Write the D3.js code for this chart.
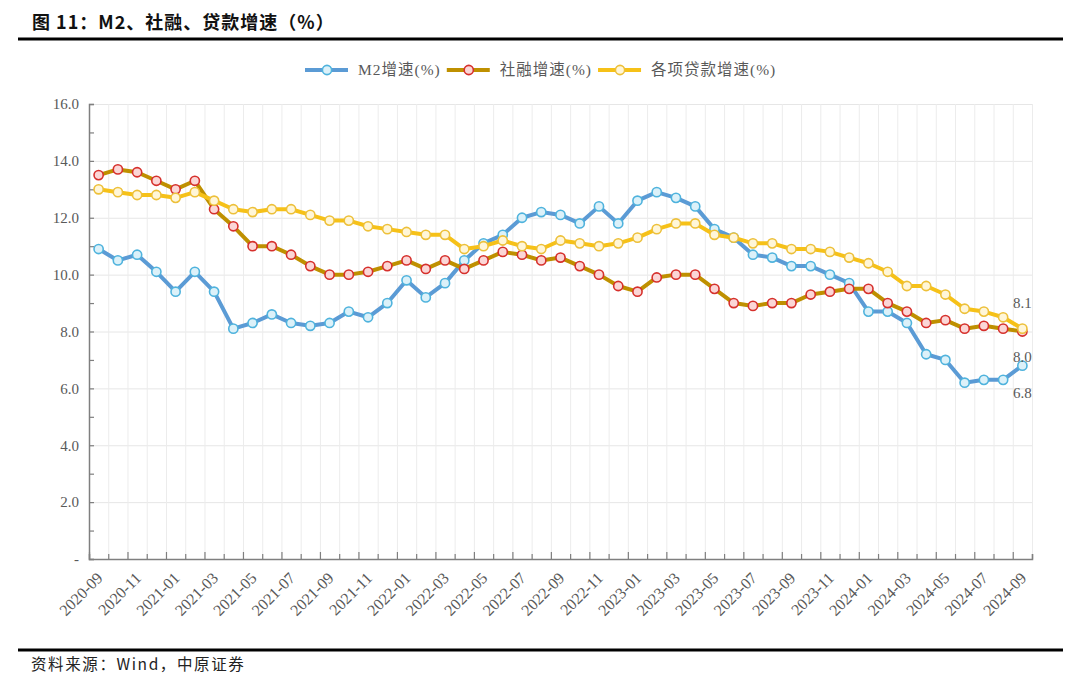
<!DOCTYPE html>
<html>
<head>
<meta charset="utf-8">
<script src="https://cdn.jsdelivr.net/npm/d3@7.9.0/dist/d3.min.js"></script>
<style>
  html, body { margin: 0; padding: 0; background: #fff; }
  svg { display: block; }
  .serif { font-family: "Liberation Serif", "Noto Sans CJK SC", serif; }
</style>
</head>
<body>
<svg id="chart" width="1080" height="696"></svg>
<script>
// categories (monthly)
const months = [
  '2020-09','2020-10','2020-11','2020-12',
  '2021-01','2021-02','2021-03','2021-04','2021-05','2021-06','2021-07','2021-08','2021-09','2021-10','2021-11','2021-12',
  '2022-01','2022-02','2022-03','2022-04','2022-05','2022-06','2022-07','2022-08','2022-09','2022-10','2022-11','2022-12',
  '2023-01','2023-02','2023-03','2023-04','2023-05','2023-06','2023-07','2023-08','2023-09','2023-10','2023-11','2023-12',
  '2024-01','2024-02','2024-03','2024-04','2024-05','2024-06','2024-07','2024-08','2024-09'
];

// M2增速(%)
const m2Growth = [
  10.9, 10.5, 10.7, 10.1,
  9.4, 10.1, 9.4, 8.1, 8.3, 8.6, 8.3, 8.2, 8.3, 8.7, 8.5, 9.0,
  9.8, 9.2, 9.7, 10.5, 11.1, 11.4, 12.0, 12.2, 12.1, 11.8, 12.4, 11.8,
  12.6, 12.9, 12.7, 12.4, 11.6, 11.3, 10.7, 10.6, 10.3, 10.3, 10.0, 9.7,
  8.7, 8.7, 8.3, 7.2, 7.0, 6.2, 6.3, 6.3, 6.8
];

// 社融增速(%)
const tsfGrowth = [
  13.5, 13.7, 13.6, 13.3,
  13.0, 13.3, 12.3, 11.7, 11.0, 11.0, 10.7, 10.3, 10.0, 10.0, 10.1, 10.3,
  10.5, 10.2, 10.5, 10.2, 10.5, 10.8, 10.7, 10.5, 10.6, 10.3, 10.0, 9.6,
  9.4, 9.9, 10.0, 10.0, 9.5, 9.0, 8.9, 9.0, 9.0, 9.3, 9.4, 9.5,
  9.5, 9.0, 8.7, 8.3, 8.4, 8.1, 8.2, 8.1, 8.0
];

// 各项贷款增速(%)
const loanGrowth = [
  13.0, 12.9, 12.8, 12.8,
  12.7, 12.9, 12.6, 12.3, 12.2, 12.3, 12.3, 12.1, 11.9, 11.9, 11.7, 11.6,
  11.5, 11.4, 11.4, 10.9, 11.0, 11.2, 11.0, 10.9, 11.2, 11.1, 11.0, 11.1,
  11.3, 11.6, 11.8, 11.8, 11.4, 11.3, 11.1, 11.1, 10.9, 10.9, 10.8, 10.6,
  10.4, 10.1, 9.6, 9.6, 9.3, 8.8, 8.7, 8.5, 8.1
];

const yTicks = [0, 2, 4, 6, 8, 10, 12, 14, 16];
const xLabels = months.filter((d, i) => i % 2 === 0);

const series = [
  { name: 'M2增速(%)', values: m2Growth, line: '#5b9bd5', ring: '#4fb3dd', fill: '#dcf1f9', labelDy: 27 },
  { name: '社融增速(%)', values: tsfGrowth, line: '#bf9000', ring: '#d6302c', fill: '#fbd6d6', labelDy: 25 },
  { name: '各项贷款增速(%)', values: loanGrowth, line: '#f6c118', ring: '#edc03a', fill: '#fff6d8', labelDy: -26 }
];

const svg = d3.select('#chart');
const plotLeft = 89, plotRight = 1032, plotTop = 104, plotBottom = 559;

svg.append('rect').attr('width', 1080).attr('height', 696).attr('fill', '#fff');

// title + rules
svg.append('text')
  .attr('x', 32).attr('y', 29)
  .attr('font-family', '"Noto Sans CJK SC", "Liberation Sans", sans-serif')
  .attr('font-weight', 'bold').attr('font-size', 18).attr('fill', '#111')
  .attr('letter-spacing', 1)
  .text('图 11：M2、社融、贷款增速（%）');
svg.append('line').attr('x1', 18).attr('x2', 1063).attr('y1', 39).attr('y2', 39)
  .attr('stroke', '#000').attr('stroke-width', 3);
svg.append('line').attr('x1', 18).attr('x2', 1063).attr('y1', 650).attr('y2', 650)
  .attr('stroke', '#000').attr('stroke-width', 3);
svg.append('text')
  .attr('x', 31).attr('y', 670)
  .attr('font-family', '"Noto Sans CJK SC", "Liberation Sans", sans-serif')
  .attr('font-size', 15.5).attr('fill', '#222').attr('letter-spacing', 1.6)
  .text('资料来源：Wind，中原证券');

// scales
const x = d3.scaleBand().domain(months).range([plotLeft, plotRight]);
const xEdge = d3.scaleLinear().domain([0, months.length]).range([plotLeft, plotRight]);
const y = d3.scaleLinear().domain([0, 16]).range([plotBottom, plotTop]);

// gridlines
svg.append('g')
  .attr('transform', `translate(${plotLeft},0)`)
  .call(d3.axisLeft(y).tickValues(yTicks.slice(1)).tickSize(-(plotRight - plotLeft)).tickFormat(''))
  .call(g => g.select('.domain').remove())
  .call(g => g.selectAll('line').attr('stroke', '#e6e6e6').attr('stroke-width', 1));
svg.append('g')
  .attr('transform', `translate(0,${plotBottom})`)
  .call(d3.axisBottom(xEdge).tickValues(d3.range(1, months.length + 1)).tickSize(-(plotBottom - plotTop)).tickFormat(''))
  .call(g => g.select('.domain').remove())
  .call(g => g.selectAll('line').attr('stroke', '#ececec').attr('stroke-width', 1));

// y axis
svg.append('g')
  .attr('transform', `translate(${plotLeft},0)`)
  .call(d3.axisLeft(y).tickValues(d3.range(0, 17)).tickSize(-5).tickPadding(10)
    .tickFormat(d => d === 0 ? '-' : (d % 2 === 0 ? d3.format('.1f')(d) : '')))
  .call(g => g.select('.domain').attr('stroke', '#7f7f7f').attr('stroke-width', 1.5))
  .call(g => g.selectAll('line').attr('stroke', '#7f7f7f').attr('stroke-width', 1.2))
  .call(g => g.selectAll('text').attr('class', 'serif').attr('font-size', 15).attr('fill', '#595959'));

// x axis: ticks between categories
svg.append('g')
  .attr('transform', `translate(0,${plotBottom})`)
  .call(d3.axisBottom(xEdge).tickValues(d3.range(0, months.length + 1)).tickSize(-5).tickFormat(''))
  .call(g => g.select('.domain').attr('stroke', '#7f7f7f').attr('stroke-width', 1.5))
  .call(g => g.selectAll('.tick line').attr('stroke', '#7f7f7f').attr('stroke-width', 1.2)
    .attr('y2', d => d % 2 === 0 ? -7 : -5));

// x labels, every other month
svg.append('g')
  .attr('transform', `translate(0,${plotBottom})`)
  .call(d3.axisBottom(x).tickValues(xLabels).tickSize(0).tickPadding(0))
  .call(g => g.select('.domain').remove())
  .call(g => g.selectAll('text')
    .attr('class', 'serif').attr('font-size', 16).attr('fill', '#595959')
    .attr('text-anchor', 'end').attr('y', 0).attr('dy', 0)
    .attr('transform', 'translate(5,20) rotate(-45)'));

// series
const line = d3.line().x((d, i) => x(months[i]) + x.bandwidth() / 2).y(d => y(d));

series.forEach(s => {
  const g = svg.append('g');
  g.append('path')
    .attr('d', line(s.values))
    .attr('fill', 'none').attr('stroke', s.line).attr('stroke-width', 4)
    .attr('stroke-linejoin', 'round');
  g.selectAll('circle').data(s.values).join('circle')
    .attr('cx', (d, i) => x(months[i]) + x.bandwidth() / 2)
    .attr('cy', d => y(d))
    .attr('r', 4.6)
    .attr('fill', s.fill).attr('stroke', s.ring).attr('stroke-width', 1.6);
});

// end labels
series.forEach(s => {
  const last = s.values.length - 1;
  svg.append('text')
    .attr('class', 'serif')
    .attr('x', x(months[last]) + x.bandwidth() / 2)
    .attr('y', y(s.values[last]) + s.labelDy)
    .attr('dy', '0.35em')
    .attr('text-anchor', 'middle')
    .attr('font-size', 15).attr('fill', '#595959')
    .text(d3.format('.1f')(s.values[last]));
});

// legend
const legend = svg.append('g').attr('transform', 'translate(305,70)');
let lx = 0;
series.forEach(s => {
  const item = legend.append('g').attr('transform', `translate(${lx},0)`);
  item.append('line').attr('x1', 0).attr('x2', 43).attr('y1', 0).attr('y2', 0)
    .attr('stroke', s.line).attr('stroke-width', 4);
  item.append('circle').attr('cx', 22).attr('cy', 0).attr('r', 4.6)
    .attr('fill', s.fill).attr('stroke', s.ring).attr('stroke-width', 1.6);
  const t = item.append('text')
    .attr('class', 'serif')
    .attr('x', 53).attr('dy', '0.35em')
    .attr('font-size', 15.5).attr('fill', '#595959').attr('letter-spacing', 1)
    .text(s.name);
  lx += 53 + t.node().getComputedTextLength() + 6;
});
</script>
</body>
</html>
